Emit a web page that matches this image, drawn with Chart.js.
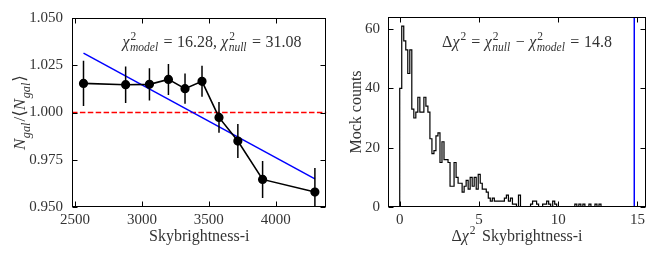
<!DOCTYPE html>
<html>
<head>
<meta charset="utf-8">
<script src="https://cdn.jsdelivr.net/npm/chart.js@4.4.1/dist/chart.umd.min.js"></script>
<style>
  html, body { margin: 0; padding: 0; background: #fff; }
  #wrap { position: relative; width: 664px; height: 266px; }
  canvas { position: absolute; top: 0; }
  #left { left: 0; }
  #right { left: 332px; }
</style>
</head>
<body>
<div id="wrap">
  <canvas id="left" width="332" height="266"></canvas>
  <canvas id="right" width="332" height="266"></canvas>
</div>
<script>
// left panel: normalised galaxy counts in sky-brightness bins
const skyBright = [2563, 2878, 3056, 3198, 3322, 3449, 3576, 3717, 3902, 4293];
const nGalRatio = [1.0154, 1.0147, 1.0149, 1.0175, 1.0126, 1.0165, 0.9974, 0.9849, 0.9646, 0.9579];
const nGalErr   = [0.0120, 0.0097, 0.0085, 0.0082, 0.0080, 0.0082, 0.0081, 0.0090, 0.0098, 0.0128];
const fitX = [2563, 4293];
const fitY = [1.0314, 0.9649];
const nullLevel = 1.0;
const leftXRange = [2477, 4379];
const leftYRange = [0.95, 1.05];
const leftXTicks = [2500, 3000, 3500, 4000];
const leftYTicks = [0.95, 0.975, 1.0, 1.025, 1.05];

// right panel: histogram of delta chi2 from mocks (100 bins)
const histStart = 0;
const histWidth = 0.127;
const mockCounts = [
  40, 61, 56, 53, 45, 53, 33, 30, 32, 37,
  32, 32, 37, 34, 32, 23, 18, 19, 24, 25,
  15, 22, 16, 16, 15, 7, 7, 15, 10, 8,
  8, 5, 7, 9, 6, 10, 7, 10, 6, 11,
  8, 6, 6, 5, 3, 2, 3, 2, 2, 2,
  2, 2, 3, 4, 2, 3, 1, 1, 0, 4,
  0, 0, 0, 0, 0, 1, 2, 2, 1, 0,
  0, 1, 1, 2, 1, 0, 2, 1, 0, 0,
  0, 0, 0, 0, 0, 0, 0, 1, 0, 1,
  0, 1, 0, 0, 1, 0, 0, 1, 0, 1
];
const dChi2Obs = 14.8;
const rightXRange = [-0.74, 15.54];
const rightYRange = [0, 64.05];
const rightXTicks = [0, 5, 10, 15];
const rightYTicks = [0, 20, 40, 60];

const FONT = '"Liberation Serif", "DejaVu Serif", serif';
const TXT = '#333';
function font(size, italic) { return (italic ? 'italic ' : '') + size + 'px ' + FONT; }

// parts: plain string, {t} italic, {sup, sub} stacked scripts, {g} gap in px
function drawRich(ctx, parts, x, y, size, align) {
  const small = size * 0.72;
  const widths = parts.map(p => {
    if (typeof p === 'string') { ctx.font = font(size, false); return ctx.measureText(p).width; }
    if (p.g !== undefined) return p.g;
    if (p.t !== undefined) { ctx.font = font(size, true); return ctx.measureText(p.t).width; }
    let w = 0;
    if (p.sup) { ctx.font = font(small, false); w = Math.max(w, ctx.measureText(p.sup).width); }
    if (p.sub) { ctx.font = font(small, true); w = Math.max(w, ctx.measureText(p.sub).width); }
    return w + 1.5;
  });
  const total = widths.reduce((a, b) => a + b, 0);
  let cx = align === 'center' ? x - total / 2 : (align === 'right' ? x - total : x);
  ctx.textAlign = 'left';
  ctx.textBaseline = 'alphabetic';
  ctx.fillStyle = TXT;
  parts.forEach((p, i) => {
    if (typeof p === 'string') { ctx.font = font(size, false); ctx.fillText(p, cx, y); }
    else if (p.t !== undefined) { ctx.font = font(size, true); ctx.fillText(p.t, cx, y); }
    else if (p.g === undefined) {
      if (p.sup) { ctx.font = font(small, false); ctx.fillText(p.sup, cx + 1, y - size * 0.42); }
      if (p.sub) { ctx.font = font(small, true); ctx.fillText(p.sub, cx + 0.5, y + size * 0.27); }
    }
    cx += widths[i];
  });
}

// box with inward ticks on all four sides
const framePlugin = {
  id: 'frame',
  afterDraw(chart) {
    const { ctx, chartArea: a, scales } = chart;
    const L = Math.round(a.left) + 0.5, R = Math.round(a.right) - 0.5;
    const T = Math.round(a.top) + 0.5, B = Math.round(a.bottom) - 0.5;
    ctx.save();
    ctx.strokeStyle = '#000';
    ctx.lineWidth = 1;
    ctx.strokeRect(L, T, R - L, B - T);
    ctx.beginPath();
    scales.x.ticks.forEach(t => {
      const px = Math.round(scales.x.getPixelForValue(t.value)) + 0.5;
      ctx.moveTo(px, B); ctx.lineTo(px, B - 5);
      ctx.moveTo(px, T); ctx.lineTo(px, T + 5);
    });
    scales.y.ticks.forEach(t => {
      const py = Math.round(scales.y.getPixelForValue(t.value)) + 0.5;
      ctx.moveTo(L, py); ctx.lineTo(L + 5, py);
      ctx.moveTo(R, py); ctx.lineTo(R - 5, py);
    });
    ctx.stroke();
    ctx.restore();
  }
};

function labelPlugin(drawFn) {
  return { id: 'labels', afterDraw(chart) { const ctx = chart.ctx; ctx.save(); drawFn(ctx, chart); ctx.restore(); } };
}

const errorBarPlugin = {
  id: 'errorBars',
  afterDatasetsDraw(chart) {
    const { ctx, chartArea: a, scales: { x, y } } = chart;
    ctx.save();
    ctx.beginPath();
    ctx.rect(a.left, a.top, a.right - a.left, a.bottom - a.top);
    ctx.clip();
    ctx.strokeStyle = '#000';
    ctx.lineWidth = 1.5;
    ctx.beginPath();
    skyBright.forEach((s, i) => {
      const px = x.getPixelForValue(s);
      ctx.moveTo(px, y.getPixelForValue(nGalRatio[i] + nGalErr[i]));
      ctx.lineTo(px, y.getPixelForValue(nGalRatio[i] - nGalErr[i]));
    });
    ctx.stroke();
    ctx.restore();
  }
};

function axisOpts(range, ticks, fmt, fixed, pad) {
  return {
    type: 'linear',
    min: range[0], max: range[1],
    grid: { display: false, drawTicks: false },
    border: { display: false },
    afterBuildTicks: s => { s.ticks = ticks.map(v => ({ value: v })); },
    afterFit: fixed,
    ticks: { font: { family: FONT, size: 15 }, color: TXT, padding: pad, callback: fmt }
  };
}

const baseOpts = {
  responsive: false,
  animation: false,
  plugins: { legend: { display: false }, tooltip: { enabled: false } },
  elements: { point: { radius: 0 }, line: { tension: 0 } }
};

const EQ = [{ g: 4.5 }, '=', { g: 4.5 }];

// ---------- left chart ----------
new Chart(document.getElementById('left'), {
  type: 'line',
  data: {
    datasets: [
      {
        data: skyBright.map((s, i) => ({ x: s, y: nGalRatio[i] })),
        borderColor: '#000', borderWidth: 1.6,
        pointRadius: 3.8, pointBackgroundColor: '#000', pointBorderColor: '#000'
      },
      {
        data: fitX.map((s, i) => ({ x: s, y: fitY[i] })),
        borderColor: '#0000ff', borderWidth: 1.5
      },
      {
        data: leftXRange.map(s => ({ x: s, y: nullLevel })),
        borderColor: '#ff0000', borderWidth: 1.5, borderDash: [5.5, 2.4]
      }
    ]
  },
  options: Object.assign({}, baseOpts, {
    layout: { padding: { top: 17, right: 2, left: 0, bottom: 0 } },
    scales: {
      x: axisOpts(leftXRange, leftXTicks, v => String(v), s => { s.height = 59; }, 4),
      y: axisOpts(leftYRange, leftYTicks, v => v.toFixed(3), s => { s.width = 72; }, 9)
    }
  }),
  plugins: [errorBarPlugin, framePlugin, labelPlugin((ctx, chart) => {
    const a = chart.chartArea;
    drawRich(ctx, ['Skybrightness-i'], (a.left + a.right) / 2, 241, 16, 'center');
    drawRich(ctx, [{ t: 'χ' }, { sup: '2', sub: 'model' }, ...EQ, '16.28, ', { t: 'χ' }, { sup: '2', sub: 'null' }, ...EQ, '31.08'],
      212, 47, 16, 'center');
    ctx.translate(25, (a.top + a.bottom) / 2);
    ctx.rotate(-Math.PI / 2);
    drawRich(ctx, [{ t: 'N' }, { sub: 'gal' }, '/⟨', { t: 'N' }, { sub: 'gal' }, '⟩'], 0, 0, 17, 'center');
  })]
});

// ---------- right chart ----------
const histPts = [{ x: histStart, y: 0 }];
mockCounts.forEach((c, i) => histPts.push({ x: histStart + i * histWidth, y: c }));
histPts.push({ x: histStart + mockCounts.length * histWidth, y: 0 });

new Chart(document.getElementById('right'), {
  type: 'line',
  data: {
    datasets: [
      {
        data: [{ x: dChi2Obs, y: rightYRange[0] }, { x: dChi2Obs, y: rightYRange[1] }],
        borderColor: '#0000ff', borderWidth: 1.5
      },
      {
        data: histPts,
        stepped: 'before',
        borderColor: '#000', borderWidth: 1.2
      }
    ]
  },
  options: Object.assign({}, baseOpts, {
    layout: { padding: { top: 17, right: 18, left: 0, bottom: 0 } },
    scales: {
      x: axisOpts(rightXRange, rightXTicks, v => String(v), s => { s.height = 59; }, 4),
      y: axisOpts(rightYRange, rightYTicks, v => String(v), s => { s.width = 56; }, 8)
    }
  }),
  plugins: [framePlugin, labelPlugin((ctx, chart) => {
    const a = chart.chartArea;
    drawRich(ctx, ['Δ', { t: 'χ' }, { sup: '2' }, { g: 2 }, ' Skybrightness-i'], (a.left + a.right) / 2, 241, 16, 'center');
    drawRich(ctx, ['Δ', { t: 'χ' }, { sup: '2' }, ...EQ, { t: 'χ' }, { sup: '2', sub: 'null' }, { g: 4.5 }, '−', { g: 4.5 },
      { t: 'χ' }, { sup: '2', sub: 'model' }, ...EQ, '14.8'],
      195, 47, 16, 'center');
    ctx.translate(29, (a.top + a.bottom) / 2);
    ctx.rotate(-Math.PI / 2);
    drawRich(ctx, ['Mock counts'], 0, 0, 16, 'center');
  })]
});
</script>
</body>
</html>
